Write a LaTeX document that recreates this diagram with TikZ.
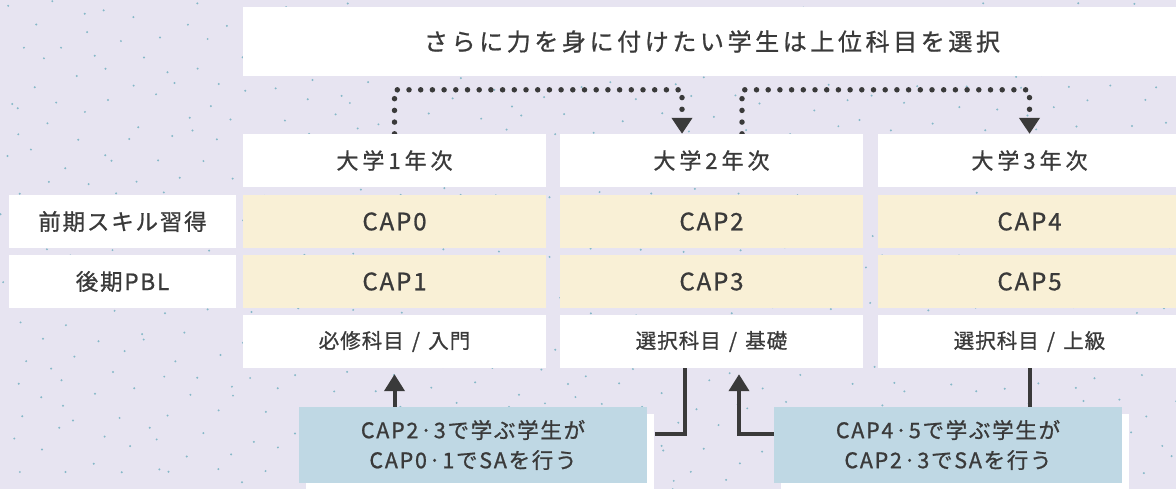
\documentclass[tikz,border=0pt]{standalone}
\usepackage{fontspec}
\setmainfont{Noto Sans CJK JP}[FakeBold=0.9]
\usetikzlibrary{arrows.meta,calc}
\definecolor{bgc}{HTML}{E7E4F1}
\definecolor{dotc}{HTML}{86B8C8}
\definecolor{cream}{HTML}{F9F0D6}
\definecolor{bluec}{HTML}{BFD8E4}
\definecolor{ink}{HTML}{3A3A3A}
\pgfdeclarelayer{bg}
\pgfdeclarelayer{lines}
\pgfsetlayers{bg,lines,main}
\newcommand\titlefont{\fontsize{24}{26}\selectfont\addfontfeature{LetterSpace=15}}
\newcommand\yearfont{\fontsize{22}{26}\selectfont\addfontfeature{LetterSpace=18}}
\newcommand\capfont{\fontsize{24}{26}\selectfont\addfontfeature{LetterSpace=8}}
\newcommand\coursefont{\fontsize{20.5}{24}\selectfont\addfontfeature{LetterSpace=5}}
\newcommand\labelfont{\fontsize{22.5}{26}\selectfont\addfontfeature{LetterSpace=8}}
\newcommand\notefont{\fontsize{21.5}{30}\selectfont\addfontfeature{LetterSpace=8}}
\newcommand\sep{\hspace{0.4em}/\hspace{0.4em}}
\begin{document}
\begin{tikzpicture}[x=1pt,y=-1pt,
  box/.style={rectangle, inner sep=0pt, minimum height=53pt, text=ink},
  colbox/.style={box, minimum width=303pt},
  ybox/.style={colbox, fill=white, font=\yearfont},
  cbox/.style={colbox, fill=cream, font=\capfont},
  kbox/.style={colbox, fill=white, font=\coursefont},
  lbox/.style={box, fill=white, minimum width=227pt, font=\labelfont},
  tbox/.style={box, fill=white, minimum width=938pt, minimum height=69pt, font=\titlefont},
  nbox/.style={rectangle, inner sep=0pt, fill=bluec, text=ink, minimum width=348pt, minimum height=76pt, align=center, font=\notefont},
  shadowc/.style={fill=white},
  dotl/.style={draw=ink, line width=5.5pt, line cap=round, dash pattern=on 0pt off 11.7pt, -{Triangle[width=20pt,length=16pt]}},
  sline/.style={draw=ink, line width=4pt},
  sarr/.style={sline, -{Triangle[width=20pt,length=17pt]}, shorten >=6pt}
]
\useasboundingbox (0,0) rectangle (1176,489);
\begin{pgfonlayer}{bg}
  \fill[bgc] (0,0) rectangle (1176,489);
  \pgfmathsetseed{90731}
  \foreach \i in {1,...,700}{
    \pgfmathsetmacro\xx{frac(\i*0.75487767)*1176 + rand*6}
    \pgfmathsetmacro\yy{frac(\i*0.56984029)*489 + rand*6}
    \fill[dotc] (\xx,\yy) circle (1.1);
  }
\end{pgfonlayer}

% title
\node[tbox] (top) at (712,41.5) {さらに力を身に付けたい学生は上位科目を選択};

% years
\node[ybox] (y1) at (394.5,160.5) {大学1年次};
\node[ybox] (y2) at (711.5,160.5) {大学2年次};
\node[ybox] (y3) at (1029.5,160.5) {大学3年次};

% row labels
\node[lbox] (l1) at (122.5,221.5) {前期スキル習得};
\node[lbox] (l2) at (122.5,281.5) {後期PBL};

% CAP boxes
\node[cbox] (p0) at (394.5,221.5) {CAP0};
\node[cbox] (p2) at (711.5,221.5) {CAP2};
\node[cbox] (p4) at (1029.5,221.5) {CAP4};
\node[cbox] (p1) at (394.5,281.5) {CAP1};
\node[cbox] (p3) at (711.5,281.5) {CAP3};
\node[cbox] (p5) at (1029.5,281.5) {CAP5};

% course boxes
\node[kbox] (c1) at (394.5,341.5) {必修科目\sep 入門};
\node[kbox] (c2) at (711.5,341.5) {選択科目\sep 基礎};
\node[kbox] (c3) at (1029.5,341.5) {選択科目\sep 上級};

% SA notes with offset white backing
\fill[shadowc] (306,414) rectangle (654,490);
\fill[shadowc] (781,414) rectangle (1129,490);
\node[nbox] (b1) at (473,445) {CAP2·3で学ぶ学生が\\CAP0·1でSAを行う};
\node[nbox] (b2) at (948,445) {CAP4·5で学ぶ学生が\\CAP2·3でSAを行う};

\begin{pgfonlayer}{lines}
  \draw[dotl] (y1.north) -- ++(0,-44) -| ($(y2.north)+(-29.5,0)$);
  \draw[dotl] ($(y2.north)+(30.5,0)$) -- ++(0,-44) -| (y3.north);
  \draw[sarr] (c1.south |- b1.north) -- (c1.south);
  \draw[sline] ($(c2.south)+(-26.5,0)$) |- ($(b1.north east)+(8,27)$);
  \draw[sarr] ($(b2.north west)+(0,27)$) -| ($(c2.south)+(27.5,0)$);
  \draw[sline] (c3.south) -- (c3.south |- b2.north);
\end{pgfonlayer}
\end{tikzpicture}
\end{document}
